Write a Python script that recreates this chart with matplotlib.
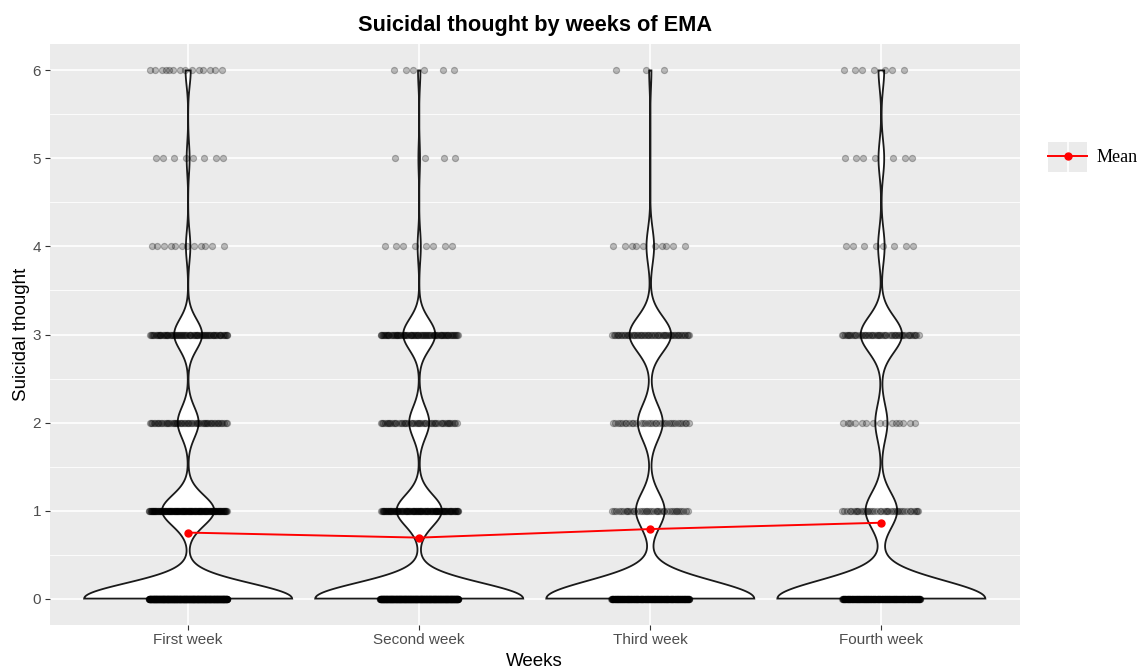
import numpy as np
import matplotlib
matplotlib.use('Agg')
import matplotlib.pyplot as plt
from matplotlib.lines import Line2D
from matplotlib.patches import Rectangle

plt.rcParams['font.family'] = ['Liberation Sans', 'DejaVu Sans']

# 数据：每周各分数的回答次数（从图中估计）
weeks = ['First week', 'Second week', 'Third week', 'Fourth week']
levels = np.array([0, 1, 2, 3, 4, 5, 6])
week1_counts = [566, 142, 57, 76, 12, 8, 14]
week2_counts = [520, 113, 50, 80, 8, 4, 6]
week3_counts = [275, 38, 33, 55, 10, 0, 3]
week4_counts = [257, 39, 15, 51, 8, 7, 7]
all_counts = [week1_counts, week2_counts, week3_counts, week4_counts]

bg = '#EBEBEB'
txt = '#4D4D4D'


def nrd0(x):
    sd = np.std(x, ddof=1)
    q75, q25 = np.percentile(x, [75, 25])
    lo = min(sd, (q75 - q25) / 1.34)
    return 0.9 * lo * len(x) ** -0.2


def violin_density(counts):
    data = np.repeat(levels, counts)
    bw = nrd0(data)
    grid = np.linspace(data.min(), data.max(), 512)
    c = np.array(counts, dtype=float)
    d = (c[None, :] * np.exp(-0.5 * ((grid[:, None] - levels[None, :]) / bw) ** 2)).sum(axis=1)
    d = d / (c.sum() * bw * np.sqrt(2 * np.pi))
    return grid, d


fig = plt.figure(figsize=(11.41, 6.69), dpi=100)
ax = fig.add_axes([49.5 / 1141, 1 - 625 / 669, 970.5 / 1141, 581 / 669])
ax.set_facecolor(bg)
for s in ax.spines.values():
    s.set_visible(False)

# 网格线
for y in np.arange(0.5, 6, 1.0):
    ax.axhline(y, color='white', lw=0.6, zorder=0)
for y in range(7):
    ax.axhline(y, color='white', lw=1.2, zorder=0)
for i in range(len(weeks)):
    ax.axvline(i + 1, color='white', lw=1.2, zorder=0)

golden = (np.sqrt(5) - 1) / 2
means = []
for i, counts in enumerate(all_counts):
    pos = i + 1
    grid, d = violin_density(counts)
    w = d / d.max() * 0.45
    xs = np.concatenate([pos - w, (pos + w)[::-1]])
    ys = np.concatenate([grid, grid[::-1]])
    ax.fill(xs, ys, facecolor='white', edgecolor='#1a1a1a', lw=1.3, zorder=2)

    # 抖动点（确定性的水平错开）
    for lv, n in zip(levels, counts):
        k = np.arange(n)
        off = ((k * golden + 0.37 * lv + 0.11 * i) % 1 - 0.5) * 0.34
        ax.scatter(pos + off, np.full(n, lv), s=20, facecolor='black',
                   edgecolor='black', linewidths=0.8, alpha=0.25, zorder=3)
    means.append(np.average(levels, weights=counts))

x = np.arange(1, len(weeks) + 1)
ax.plot(x, means, color='red', lw=1.4, marker='o', ms=5, zorder=5)

ax.set_xlim(0.4, 4.6)
ax.set_ylim(-0.3, 6.3)
ax.set_xticks(x)
ax.set_xticklabels(weeks)
ax.set_yticks(range(7))
ax.tick_params(colors='#333333', labelcolor=txt, labelsize=11, length=3.5, width=0.8, pad=2.5)
ax.set_xlabel('Weeks', fontsize=13.5, labelpad=4)
ax.set_ylabel('Suicidal thought', fontsize=13.5, labelpad=2)
ax.set_title('Suicidal thought by weeks of EMA', fontsize=15.7, fontweight='bold', pad=9)

# 图例
W, H = 1141, 669
fig.patches.append(Rectangle((1048 / W, 1 - 172 / H), 39 / W, 30 / H, transform=fig.transFigure,
                             facecolor=bg, edgecolor='none'))
fig.lines.append(Line2D([1067.5 / W, 1067.5 / W], [1 - 172 / H, 1 - 142 / H], transform=fig.transFigure,
                        color='white', lw=1.2))
fig.lines.append(Line2D([1048 / W, 1087 / W], [1 - 156 / H, 1 - 156 / H], transform=fig.transFigure,
                        color='red', lw=1.4))
fig.lines.append(Line2D([1067.5 / W], [1 - 156 / H], transform=fig.transFigure,
                        color='red', marker='o', ms=5))
fig.text(1097 / W, 1 - 157 / H, 'Mean', fontsize=13, family=['Liberation Serif', 'DejaVu Serif'],
         va='center', ha='left')

fig.savefig('out.png', dpi=100)
